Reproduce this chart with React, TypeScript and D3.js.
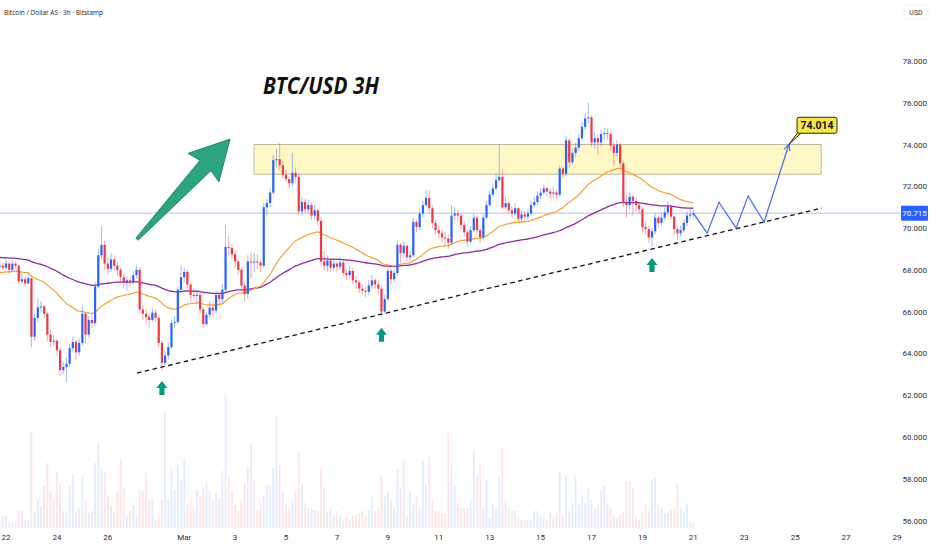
import React from 'react';
import * as d3 from 'd3';

const W = 932;
const H = 550;

// ---------- data ----------
const firstCandle = new Date(2025, 1, 21, 18, 0); // Feb 21, 18:00, 3h candles
const firstOpen = 68.15;

const closes = [
  68.2, 68.1, 68.3, 68.0, 68.3, 68.2, 67.45, 67.55, 67.35, 67.6,
  64.8, 65.7, 66.2, 66.25, 65.9, 64.9, 64.55, 64.6, 64.15, 63.2,
  63.35, 63.5, 64.25, 64.55, 64.05, 64.5, 65.9, 64.9, 65.6, 65.45,
  67.2, 68.7, 69.2, 68.3, 68.05, 68.5, 68.2, 68.0, 67.65, 67.4,
  67.5, 67.4, 67.75, 68.0, 66.1, 65.9, 65.75, 65.6, 65.95, 65.7,
  64.5, 63.55, 63.9, 64.3, 65.45, 65.5, 67.05, 67.65, 67.9, 67.3,
  66.8, 66.75, 66.8, 66.1, 65.4, 65.85, 66.2, 66.05, 66.8, 66.6,
  67.05, 69.1, 69.05, 68.75, 68.4, 68.0, 67.25, 66.85, 68.4, 68.35,
  68.4, 68.35, 68.2, 71.0, 71.2, 71.7, 73.25, 73.3, 73.0, 72.55,
  72.35, 72.15, 72.65, 72.45, 70.8, 71.25, 70.9, 71.1, 70.6, 70.85,
  70.35, 68.4, 68.2, 68.45, 68.1, 68.3, 68.15, 68.35, 67.85, 67.75,
  67.95, 67.5, 67.4, 67.1, 67.0, 66.95, 67.25, 67.5, 67.3, 67.1,
  66.0, 66.6, 67.95, 67.55, 67.85, 69.2, 68.8, 69.15, 68.6, 68.7,
  70.3, 70.05, 70.7, 71.1, 71.45, 70.95, 70.25, 69.9, 69.75, 69.55,
  69.5, 69.3, 70.6, 70.7, 70.6, 70.15, 69.8, 69.35, 69.9, 70.5,
  69.9, 69.55, 70.5, 71.1, 71.6, 71.9, 72.3, 72.45, 71.0, 71.2,
  70.85, 70.7, 70.95, 70.45, 70.65, 70.55, 70.7, 71.1, 71.25, 71.55,
  71.7, 71.9, 71.75, 71.65, 71.7, 71.6, 72.85, 72.6, 74.2, 73.15,
  73.6, 73.85, 74.3, 74.85, 75.25, 75.3, 74.1, 74.3, 74.1, 74.5,
  74.55, 74.5, 73.95, 73.6, 74.0, 73.1, 71.2, 71.1, 71.5, 71.3,
  71.1, 70.9, 70.05, 69.95, 69.55, 69.85, 70.5, 70.25, 70.5, 70.75,
  71.05, 70.55, 69.95, 69.75, 69.9, 70.25, 70.6, 70.65, 70.715,
];

const highs = [
  68.45, 68.35, 68.5, 68.35, 68.45, 68.4, 68.25, 67.8, 67.65, 67.8,
  67.7, 65.9, 66.6, 66.5, 66.3, 66.0, 65.1, 64.9, 64.7, 64.3,
  63.6, 63.8, 64.45, 64.8, 64.65, 64.7, 66.3, 66.0, 65.8, 65.9,
  67.4, 69.0, 70.1, 69.4, 68.6, 68.8, 68.7, 68.4, 68.1, 67.8,
  67.7, 67.7, 67.95, 68.2, 68.1, 66.3, 66.1, 65.9, 66.15, 66.1,
  65.8, 64.6, 64.1, 64.5, 65.6, 65.8, 67.2, 68.2, 68.1, 68.0,
  67.4, 67.1, 67.0, 66.9, 66.2, 66.0, 66.5, 66.45, 67.0, 66.95,
  67.3, 70.15, 69.6, 69.2, 68.9, 68.5, 68.1, 67.4, 68.7, 68.85,
  68.8, 68.75, 68.5, 71.2, 71.4, 71.9, 73.5, 73.8, 74.07, 73.2,
  72.8, 72.5, 73.6, 72.9, 72.6, 71.5, 71.4, 71.35, 71.2, 71.1,
  70.95, 70.5, 68.9, 68.7, 68.55, 68.5, 68.4, 68.6, 68.5, 68.0,
  68.2, 68.1, 67.7, 67.5, 67.3, 67.2, 67.5, 67.75, 67.6, 67.45,
  67.25, 66.8, 68.1, 68.05, 68.0, 69.4, 69.3, 69.35, 69.2, 68.9,
  70.5, 70.4, 70.9, 71.3, 71.8, 71.8, 71.1, 70.4, 70.1, 69.9,
  69.8, 69.7, 71.1, 71.0, 70.9, 70.7, 70.3, 69.9, 70.1, 70.7,
  70.6, 70.0, 70.7, 71.3, 71.8, 72.1, 72.6, 74.0, 72.85, 71.5,
  71.3, 71.0, 71.2, 71.0, 70.85, 70.8, 70.9, 71.3, 71.5, 71.75,
  71.9, 72.1, 72.0, 71.9, 71.95, 71.85, 73.0, 72.95, 74.4, 74.3,
  73.8, 74.1, 74.5, 75.1, 75.5, 76.0, 75.4, 74.6, 74.5, 74.7,
  74.8, 74.75, 74.6, 74.1, 74.2, 74.1, 73.2, 71.6, 71.7, 71.6,
  71.45, 71.25, 71.0, 70.3, 70.1, 70.0, 70.7, 70.6, 70.7, 71.0,
  71.3, 71.1, 70.6, 70.1, 70.1, 70.4, 70.8, 70.9, 70.85,
];

const lows = [
  68.0, 67.95, 68.0, 67.85, 67.95, 68.05, 67.3, 67.35, 67.2, 67.3,
  64.3, 64.6, 65.5, 66.0, 65.7, 64.6, 64.3, 64.35, 63.9, 62.9,
  63.0, 62.6, 63.4, 64.1, 63.7, 63.9, 64.4, 64.5, 64.8, 65.2,
  65.3, 67.1, 68.5, 68.0, 67.8, 67.9, 68.0, 67.7, 67.4, 67.1,
  67.0, 67.2, 67.3, 67.6, 65.9, 65.6, 65.4, 65.25, 65.5, 65.5,
  64.3, 63.2, 63.4, 63.7, 64.2, 65.2, 65.4, 66.9, 67.4, 67.1,
  66.5, 66.5, 66.4, 65.9, 65.2, 65.3, 65.7, 65.8, 65.9, 66.3,
  66.4, 66.9, 68.7, 68.5, 68.1, 67.8, 67.0, 66.5, 66.6, 67.6,
  67.9, 68.0, 67.9, 68.1, 70.6, 71.0, 71.6, 72.9, 72.8, 72.4,
  72.2, 71.9, 72.0, 72.2, 70.6, 70.6, 70.7, 70.7, 70.4, 70.4,
  70.1, 68.2, 67.95, 67.9, 67.9, 67.95, 67.9, 68.0, 67.7, 67.5,
  67.6, 67.3, 67.1, 66.9, 66.8, 66.7, 66.8, 67.1, 67.1, 66.9,
  65.75, 65.9, 66.5, 67.3, 67.4, 67.7, 68.3, 68.6, 68.4, 68.4,
  68.6, 69.8, 69.9, 70.5, 71.0, 70.7, 70.0, 69.7, 69.5, 69.3,
  69.2, 69.0, 69.2, 70.4, 70.3, 69.9, 69.6, 69.1, 69.2, 69.8,
  69.7, 69.3, 69.4, 70.4, 71.0, 71.5, 71.8, 72.2, 70.9, 70.9,
  70.7, 70.5, 70.6, 70.3, 70.3, 70.35, 70.4, 70.6, 71.0, 71.1,
  71.4, 71.6, 71.5, 71.4, 71.45, 71.4, 71.5, 72.4, 72.5, 72.9,
  73.0, 73.4, 73.7, 74.2, 74.7, 75.0, 73.9, 73.8, 73.5, 73.9,
  74.2, 74.2, 73.7, 73.0, 73.4, 72.9, 71.0, 70.5, 70.9, 70.6,
  70.8, 70.7, 69.8, 69.7, 69.3, 69.1, 69.7, 70.0, 70.1, 70.4,
  70.6, 70.4, 69.7, 69.4, 69.6, 69.8, 70.1, 70.4, 70.5,
];

const volumes = [
  7, 12, 12, 6, 5, 5, 17, 17, 8, 8,
  97, 17, 28, 22, 42, 65, 37, 28, 57, 45,
  17, 15, 42, 53, 17, 20, 52, 28, 15, 17,
  65, 85, 60, 57, 32, 22, 17, 37, 68, 40,
  12, 18, 23, 13, 37, 37, 55, 28, 28, 8,
  12, 28, 117, 28, 60, 38, 63, 48, 67, 23,
  25, 20, 38, 32, 40, 45, 37, 28, 35, 30,
  57, 132, 52, 37, 23, 17, 28, 45, 60, 85,
  48, 18, 28, 32, 43, 42, 60, 112, 63, 37,
  25, 20, 28, 37, 77, 45, 25, 20, 20, 18,
  17, 60, 40, 17, 20, 12, 17, 13, 7, 10,
  8, 12, 13, 15, 17, 13, 18, 32, 17, 20,
  52, 32, 37, 28, 20, 58, 40, 67, 12, 37,
  23, 32, 20, 67, 43, 73, 28, 17, 17, 15,
  15, 95, 63, 43, 25, 20, 20, 20, 27, 77,
  53, 63, 20, 48, 10, 25, 20, 52, 80, 28,
  20, 17, 17, 12, 8, 8, 8, 8, 17, 17,
  12, 10, 8, 15, 12, 15, 57, 13, 52, 17,
  25, 51, 25, 32, 25, 40, 28, 20, 23, 37,
  42, 25, 20, 13, 10, 13, 17, 47, 47, 40,
  12, 8, 17, 25, 17, 48, 50, 23, 20, 15,
  15, 18, 20, 43, 20, 17, 25, 7, 5,
];

const tickDays = [
  [1, 22], [1, 24], [1, 26], [2, 1], [2, 3], [2, 5], [2, 7], [2, 9], [2, 11],
  [2, 13], [2, 15], [2, 17], [2, 19], [2, 21], [2, 23], [2, 25], [2, 27], [2, 29],
];
const tickLabels = ['22', '24', '26', 'Mar', '3', '5', '7', '9', '11', '13', '15', '17', '19', '21', '23', '25', '27', '29'];
const priceTicks = [56, 58, 60, 62, 64, 66, 68, 70, 72, 74, 76, 78];

const lastPrice = 70.715;
const targetPrice = 74.014;
const zone = { from: [2, 3, 17.8], to: [2, 26, 0.5], top: 74.0, bottom: 72.58 };
const trendStart = { t: [1, 27, 3.5], p: 63.06 };
const trendEnd = { t: [2, 26, 1.2], p: 70.96 };
// projected path after the last candle: [month, day, hour, price]
const projection = [
  [2, 21, 13, 69.76],
  [2, 22, 0.2, 71.24],
  [2, 22, 16.3, 70.0],
  [2, 23, 3.6, 71.53],
  [2, 23, 18.7, 70.29],
  [2, 24, 18.2, 74.014],
];
const bigArrow = { tail: [1, 27, 3.5, 69.47], tip: [2, 2, 19.2, 74.26] };
const markIdx = [51, 120, 205];
const fastLen = 40;
const slowLen = 100;
const fastSeed = 67.85;
const slowSeed = 68.6;

// ---------- helpers ----------
const d = (a: number[]) => new Date(2025, a[0], a[1], a[2] || 0, ((a[2] || 0) % 1) * 60);

export default function App() {
  const x = d3.scaleTime().domain([new Date(2025, 1, 22), new Date(2025, 2, 29)]).range([6, 897]);
  const y = d3.scaleLinear().domain([56, 78]).range([520.5, 61]);
  const vy = d3.scaleLinear().domain([0, d3.max(volumes) as number]).range([528, 396]);

  const candles = closes.map((c, i) => {
    const t = d3.timeHour.offset(firstCandle, 3 * i);
    const o = i === 0 ? firstOpen : closes[i - 1];
    return { t, o, c, h: Math.max(highs[i], o, c), l: Math.min(lows[i], o, c), v: volumes[i] };
  });

  const ema = (len: number, seed: number) => {
    const a = 2 / (len + 1);
    let prev = seed;
    return closes.map((c) => (prev = a * c + (1 - a) * prev));
  };
  const fast = ema(fastLen, fastSeed);
  const slow = ema(slowLen, slowSeed);
  const line = d3.line<number>().x((_, i) => x(candles[i].t)).y((v) => y(v)).curve(d3.curveMonotoneX);

  const up = '#2962ff';
  const down = '#f23645';
  const bw = 2.2;

  const last = candles[candles.length - 1];
  const projPts: [number, number][] = [[x(last.t), y(last.c)], ...projection.map((p) => [x(d(p)), y(p[3])] as [number, number])];
  const tipPt = projPts[projPts.length - 1];
  const prevPt = projPts[projPts.length - 2];
  const ang = Math.atan2(tipPt[1] - prevPt[1], tipPt[0] - prevPt[0]);
  const ah = 7;
  const arrowHead = `M${tipPt[0] - ah * Math.cos(ang - 0.45)},${tipPt[1] - ah * Math.sin(ang - 0.45)}L${tipPt[0]},${tipPt[1]}L${tipPt[0] - ah * Math.cos(ang + 0.45)},${tipPt[1] - ah * Math.sin(ang + 0.45)}`;

  // big green arrow polygon
  const tA = [x(d(bigArrow.tail)), y(bigArrow.tail[3])];
  const tB = [x(d(bigArrow.tip)), y(bigArrow.tip[3])];
  const L = Math.hypot(tB[0] - tA[0], tB[1] - tA[1]);
  const ux = (tB[0] - tA[0]) / L, uy = (tB[1] - tA[1]) / L;
  const nx = -uy, ny = ux;
  const P = (s: number, w: number) => `${tA[0] + ux * s + nx * w},${tA[1] + uy * s + ny * w}`;
  const headLen = 36, headW = 21, shaftW = 7.5, tailW = 1.5;
  const bigArrowPts = [
    P(0, tailW), P(L - headLen, shaftW), P(L - headLen - 3, headW), P(L, 0),
    P(L - headLen - 3, -headW), P(L - headLen, -shaftW), P(0, -tailW),
  ].join(' ');

  const smallArrow = (cx: number, top: number) =>
    `${cx},${top} ${cx + 5.5},${top + 7} ${cx + 2.6},${top + 7} ${cx + 2.6},${top + 14} ${cx - 2.6},${top + 14} ${cx - 2.6},${top + 7} ${cx - 5.5},${top + 7}`;

  const font = 'Roboto, "Liberation Sans", sans-serif';

  return (
    <svg width={W} height={H} style={{ position: 'fixed', left: 0, top: 0, background: '#fff' }} fontFamily={font}>
      <rect x={0} y={0} width={W} height={H} fill="#ffffff" />
      <defs>
        <clipPath id="plot"><rect x={0} y={0} width={900} height={530} /></clipPath>
      </defs>
      <g clipPath="url(#plot)">
        {/* volume */}
        {candles.map((k, i) => (
          <rect key={'v' + i} x={x(k.t) - 0.9} width={1.8} y={vy(k.v)} height={528 - vy(k.v)}
            fill={k.c >= k.o ? up : down} opacity={0.13} />
        ))}
        {/* zone */}
        <rect x={x(d(zone.from))} y={y(zone.top)} width={x(d(zone.to)) - x(d(zone.from))} height={y(zone.bottom) - y(zone.top)}
          fill="#fff7c6" stroke="#b8b096" strokeWidth={0.9} />
        {/* last price line */}
        <line x1={0} x2={900} y1={y(lastPrice)} y2={y(lastPrice)} stroke="#b3c0f7" strokeWidth={1} />
        {/* moving averages */}
        <path d={line(slow) || ''} fill="none" stroke="#8e2aa6" strokeWidth={1.3} />
        <path d={line(fast) || ''} fill="none" stroke="#f5a030" strokeWidth={1.2} />
        {/* candles */}
        {candles.map((k, i) => {
          const col = k.c >= k.o ? up : down;
          const cx = x(k.t);
          const top = y(Math.max(k.o, k.c));
          const bot = y(Math.min(k.o, k.c));
          return (
            <g key={'c' + i}>
              <line x1={cx} x2={cx} y1={y(k.h)} y2={y(k.l)} stroke={col} strokeWidth={0.8} opacity={0.55} />
              <rect x={cx - bw / 2} width={bw} y={top} height={Math.max(0.8, bot - top)} fill={col} />
            </g>
          );
        })}
        {/* trend line */}
        <line x1={x(d(trendStart.t))} y1={y(trendStart.p)} x2={x(d(trendEnd.t))} y2={y(trendEnd.p)}
          stroke="#111" strokeWidth={1.3} strokeDasharray="4.5 3.5" />
        {/* projection */}
        <path d={'M' + projPts.map((p) => p.join(',')).join('L')} fill="none" stroke="#3d6ff0" strokeWidth={1.2} />
        <path d={arrowHead} fill="none" stroke="#3d6ff0" strokeWidth={1.2} />
        {/* big arrow */}
        <polygon points={bigArrowPts} fill="#2ea37f" stroke="#1c8a67" strokeWidth={1} strokeLinejoin="round" />
        {/* small arrows */}
        {markIdx.map((i) => (
          <polygon key={'m' + i} points={smallArrow(x(candles[i].t), y(candles[i].l) + 11)} fill="#089981" />
        ))}
        {/* target label */}
        <path d={`M${tipPt[0]},${tipPt[1]} L${tipPt[0] + 9},${tipPt[1] - 12} L${tipPt[0] + 13},${tipPt[1] - 12} Z`} fill="#f9e64b" stroke="#111" strokeWidth={0.9} />
        <rect x={tipPt[0] + 8} y={tipPt[1] - 27} width={40} height={16} rx={2} fill="#f9e64b" stroke="#111" strokeWidth={0.9} />
        <text x={tipPt[0] + 28} y={tipPt[1] - 15.5} textAnchor="middle" fontSize={10.5} fontWeight="bold" fill="#111">{d3.format('.3f')(targetPrice)}</text>
        {/* title */}
        <text x={263} y={94} fontFamily='"Open Sans", sans-serif' fontSize={23} fontWeight="bold" fontStyle="italic" fill="#111"
          textLength={116} lengthAdjust="spacingAndGlyphs">BTC/USD 3H</text>
      </g>

      {/* header */}
      <text x={4} y={15} fontSize={8} fill="#222" textLength={99} lengthAdjust="spacingAndGlyphs"
        fontFamily='"Liberation Sans Narrow", "Open Sans", sans-serif'>Bitcoin / Dollar AS · 3h · Bitstamp</text>
      <rect x={904} y={5} width={24} height={14} fill="#fff" stroke="#eceef2" strokeWidth={0.8} rx={1} />
      <text x={916} y={15} fontSize={7} fill="#333" textAnchor="middle">USD</text>

      {/* price axis */}
      {priceTicks.map((p) => (
        <text key={'p' + p} x={927} y={y(p) + 3} fontSize={8} fill="#2a2e39" textAnchor="end">{d3.format('.3f')(p)}</text>
      ))}
      <rect x={901} y={y(lastPrice) - 7.5} width={27} height={15} fill="#2962ff" rx={1} />
      <text x={914.5} y={y(lastPrice) + 3} fontSize={8} fill="#fff" textAnchor="middle">{d3.format('.3f')(lastPrice)}</text>

      {/* time axis */}
      {tickDays.map((td, i) => (
        <text key={'t' + i} x={x(new Date(2025, td[0], td[1]))} y={540} fontSize={8} fill="#2a2e39" textAnchor="middle">{tickLabels[i]}</text>
      ))}
    </svg>
  );
}
